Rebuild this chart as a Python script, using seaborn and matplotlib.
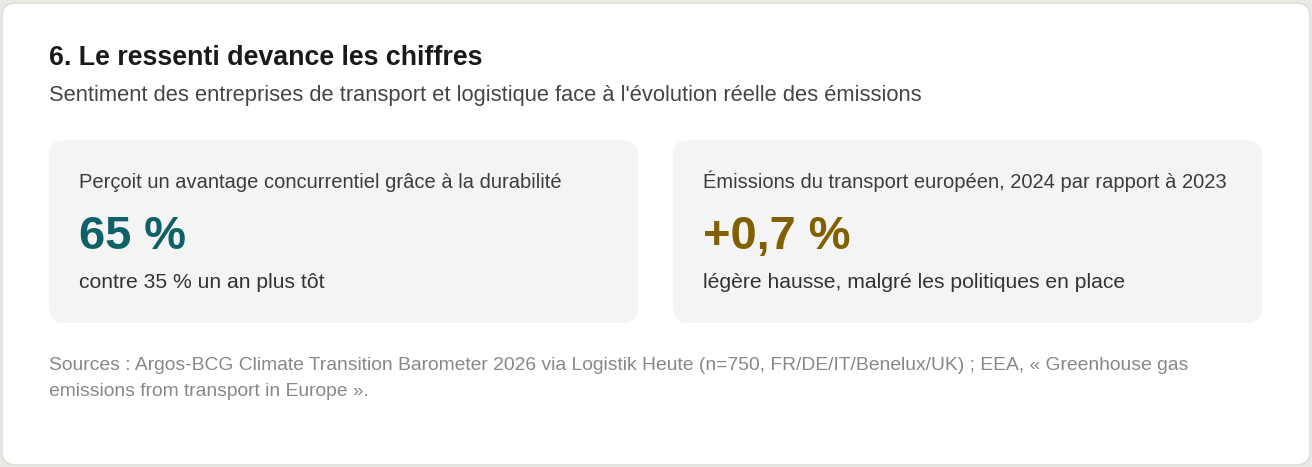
import matplotlib
matplotlib.use('Agg')
import matplotlib.pyplot as plt
from matplotlib.patches import FancyBboxPatch
import seaborn as sns

# Chart content
title = '6. Le ressenti devance les chiffres'
subtitle = "Sentiment des entreprises de transport et logistique face à l'évolution réelle des émissions"
kpi_labels = ['Perçoit un avantage concurrentiel grâce à la durabilité',
              'Émissions du transport européen, 2024 par rapport à 2023']
kpi_values = ['65 %', '+0,7 %']
kpi_notes = ['contre 35 % un an plus tôt',
             'légère hausse, malgré les politiques en place']
kpi_colors = ['#0f6168', '#806000']
sources = ['Sources : Argos-BCG Climate Transition Barometer 2026 via Logistik Heute (n=750, FR/DE/IT/Benelux/UK) ; EEA, « Greenhouse gas',
           'emissions from transport in Europe ».']

sns.set_theme(style='white')
plt.rcParams['font.family'] = ['Liberation Sans', 'DejaVu Sans']

W, H = 1312, 467
fig = plt.figure(figsize=(W / 100, H / 100), dpi=100)
fig.patch.set_facecolor('#eaeae5')
ax = fig.add_axes([0, 0, 1, 1])
ax.set_xlim(0, W)
ax.set_ylim(H, 0)
ax.axis('off')

# outer white card
ax.add_patch(FancyBboxPatch((2, 3), W - 4, H - 5, boxstyle='round,pad=0,rounding_size=14',
                            facecolor='white', edgecolor='#dcdcd6', linewidth=1))

ax.text(49, 65, title, fontsize=19.3, fontweight='bold', color='#1a1a1a', va='baseline')
ax.text(49, 101, subtitle, fontsize=15.75, color='#444444', va='baseline')

card_x = [49, 673]
card_w = 589
for i in range(len(kpi_values)):
    x0 = card_x[i]
    ax.add_patch(FancyBboxPatch((x0, 140), card_w, 183, boxstyle='round,pad=0,rounding_size=16',
                                facecolor='#f4f4f4', edgecolor='none'))
    ax.text(x0 + 30, 188, kpi_labels[i], fontsize=14.5, color='#3c3c3c', va='baseline')
    ax.text(x0 + 30, 249, kpi_values[i], fontsize=33.8, fontweight='bold', color=kpi_colors[i],
            va='baseline')
    ax.text(x0 + 30, 288, kpi_notes[i], fontsize=15.2, color='#333333', va='baseline')

for j, line in enumerate(sources):
    ax.text(49, 370 + 26 * j, line, fontsize=13.9, color='#888888', va='baseline')

fig.savefig('out.png', dpi=100, facecolor=fig.get_facecolor())
